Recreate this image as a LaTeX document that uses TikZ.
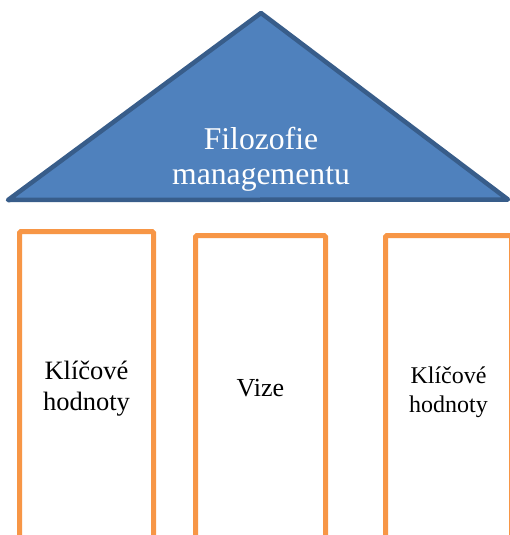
\documentclass[tikz,border=0pt]{standalone}
\usepackage{fontspec}
\setmainfont{Liberation Serif}
\newfontfamily\boxserif{Liberation Serif}
\definecolor{roofFill}{HTML}{4F81BD}
\definecolor{roofLine}{HTML}{385D8A}
\definecolor{pillarLine}{HTML}{F79646}
\begin{document}
\begin{tikzpicture}[x=1pt,y=-1pt,
  roof/.style={fill=roofFill,draw=roofLine,line width=4.5pt,line join=round},
  pillar/.style={draw=pillarLine,line width=5pt,rounded corners=1.5pt,fill=white,
    inner sep=0pt,align=center,anchor=north west}]
\useasboundingbox (0,0) rectangle (510,535);
\clip (0,0) rectangle (510,535);
% roof
\coordinate (apex) at (261,13);
\coordinate (bl) at (8,200);
\coordinate (br) at (508,199.5);
\draw[roof] (bl) -- (apex) -- (br) -- cycle;
\node[text=white,align=center,inner sep=0pt,font=\boxserif\fontsize{31.7}{35.5}\selectfont]
  (roofText) at (261,159.4) {Filozofie\\managementu};
% pillars
\node[pillar,minimum width=134pt,minimum height=314pt,font=\boxserif\fontsize{26.5}{31}\selectfont]
  (p1) at (17,229) {Klíčové\\hodnoty};
\node[pillar,minimum width=130pt,minimum height=305pt,font=\boxserif\fontsize{26}{31}\selectfont]
  (p2) at (193,233) {Vize};
\node[pillar,minimum width=126pt,minimum height=313pt,font=\boxserif\fontsize{24}{29}\selectfont]
  (p3) at (383,233) {Klíčové\\hodnoty};
\end{tikzpicture}
\end{document}
